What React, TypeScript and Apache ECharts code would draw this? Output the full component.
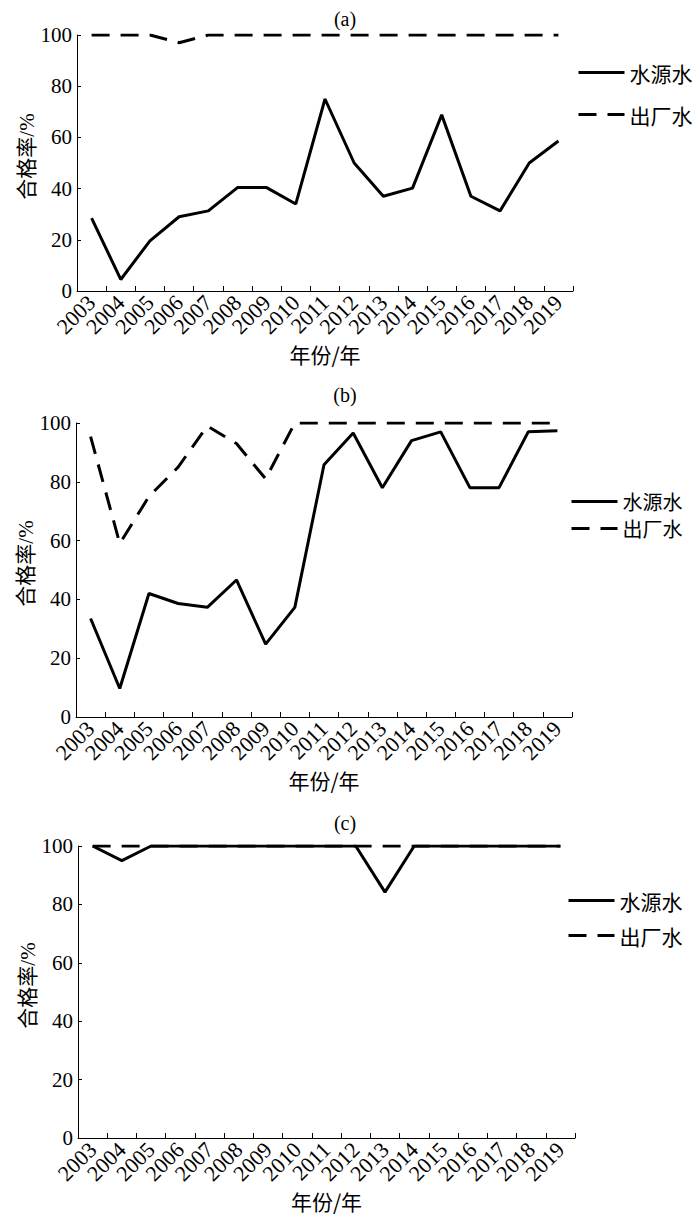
import React, { useEffect, useRef } from "react";
import * as echarts from "echarts";

const years = ["2003","2004","2005","2006","2007","2008","2009","2010","2011","2012","2013","2014","2015","2016","2017","2018","2019"];
const yTicks = [0, 20, 40, 60, 80, 100];
const panelTitles = ["(a)", "(b)", "(c)"];
const seriesNames = ["水源水", "出厂水"];

const aSource = [28.5, 4.5, 19.6, 29, 31.3, 40.4, 40.4, 34, 75, 50, 37, 40.2, 68.8, 37, 31.3, 50, 58.6];
const aPlant = [100, 100, 100, 97, 100, 100, 100, 100, 100, 100, 100, 100, 100, 100, 100, 100, 100];
const bSource = [33.5, 9.7, 42, 38.6, 37.3, 46.6, 24.8, 37.3, 85.8, 96.6, 78, 94, 97, 78, 78, 97, 97.4];
const bPlant = [95.4, 59, 75, 85, 99, 93, 81, 100, 100, 100, 100, 100, 100, 100, 100, 100, 100];
const cSource = [100, 95, 100, 100, 100, 100, 100, 100, 100, 100, 84.2, 100, 100, 100, 100, 100, 100];
const cPlant = [100, 100, 100, 100, 100, 100, 100, 100, 100, 100, 100, 100, 100, 100, 100, 100, 100];

const SERIF = "'Liberation Serif', 'Times New Roman', serif";
const CJK = "'Noto Sans CJK SC', sans-serif";

export default function App() {
  const ref = useRef<HTMLDivElement>(null);
  useEffect(() => {
    if (!ref.current) return;
    const chart = echarts.init(ref.current, null, { renderer: "svg" });
    const grids = [
      { left: 77, top: 35, width: 496, height: 256 },
      { left: 76, top: 423, width: 496, height: 294 },
      { left: 78, top: 846, width: 497, height: 292 },
    ];
    const titleTops = [4, 380, 808];
    const legendTops = [57, 486, 885];
    const legendGaps = [21, 6, 14];
    const legendFonts = [21, 20, 21];
    const legendLefts = [572, 565, 562];
    const data = [
      [aSource, aPlant],
      [bSource, bPlant],
      [cSource, cPlant],
    ];
    const axisLine = { show: true, lineStyle: { color: "#000", width: 1 } };
    const option: any = {
      animation: false,
      backgroundColor: "#fff",
      title: panelTitles.map((t, i) => ({
        text: t,
        left: 340,
        top: titleTops[i],
        textAlign: "center",
        textStyle: { fontFamily: SERIF, fontSize: 20, fontWeight: "normal", color: "#000" },
      })),
      legend: grids.map((g, i) => ({
        orient: "vertical",
        left: legendLefts[i],
        top: legendTops[i],
        itemWidth: 46,
        itemHeight: 14,
        itemGap: legendGaps[i],
        data: seriesNames,
        selectedMode: false,
        itemStyle: { opacity: 0 },
        lineStyle: { width: 3 },
        textStyle: { fontFamily: CJK, fontSize: legendFonts[i], color: "#000", lineHeight: 21 },
      })),
      grid: grids.map((g) => ({ ...g })),
      xAxis: grids.map((g, i) => ({
        type: "category",
        gridIndex: i,
        data: years,
        boundaryGap: true,
        axisLine,
        axisTick: { show: true, inside: true, length: 5, lineStyle: { color: "#000" } },
        axisLabel: { rotate: 45, fontFamily: SERIF, fontSize: 22, color: "#000", margin: 8, interval: 0 },
        name: "年份/年",
        nameLocation: "middle",
        nameGap: 52,
        nameMoveOverlap: false,
        nameTextStyle: { fontFamily: CJK, fontSize: 21, color: "#000" },
        splitLine: { show: false },
      })),
      yAxis: grids.map((g, i) => ({
        type: "value",
        gridIndex: i,
        min: yTicks[0],
        max: yTicks[yTicks.length - 1],
        interval: 20,
        axisLine,
        axisTick: { show: true, inside: true, length: 4, lineStyle: { color: "#000" } },
        axisLabel: { fontFamily: SERIF, fontSize: 21, color: "#000", margin: 5 },
        splitLine: { show: false },
        name: "合格率/%",
        nameLocation: "middle",
        nameGap: 40,
        nameRotate: 90,
        nameMoveOverlap: false,
        nameTextStyle: { fontFamily: SERIF + ", " + CJK, fontSize: 21, color: "#000", padding: [0, 0, 0, 13] },
      })),
      series: data.flatMap((pair, i) => [
        {
          name: seriesNames[1],
          type: "line",
          xAxisIndex: i,
          yAxisIndex: i,
          data: pair[1],
          symbol: "none",
          lineStyle: { color: "#000", width: 3, type: [18, 11] },
          itemStyle: { color: "#000" },
          z: 2,
        },
        {
          name: seriesNames[0],
          type: "line",
          xAxisIndex: i,
          yAxisIndex: i,
          data: pair[0],
          symbol: "none",
          lineStyle: { color: "#000", width: 3, type: "solid" },
          itemStyle: { color: "#000" },
          z: 3,
        },
      ]),
    };
    chart.setOption(option);
    return () => chart.dispose();
  }, []);
  return (
    <div
      ref={ref}
      style={{ position: "absolute", left: 0, top: 0, width: 700, height: 1221, background: "#fff" }}
    />
  );
}
